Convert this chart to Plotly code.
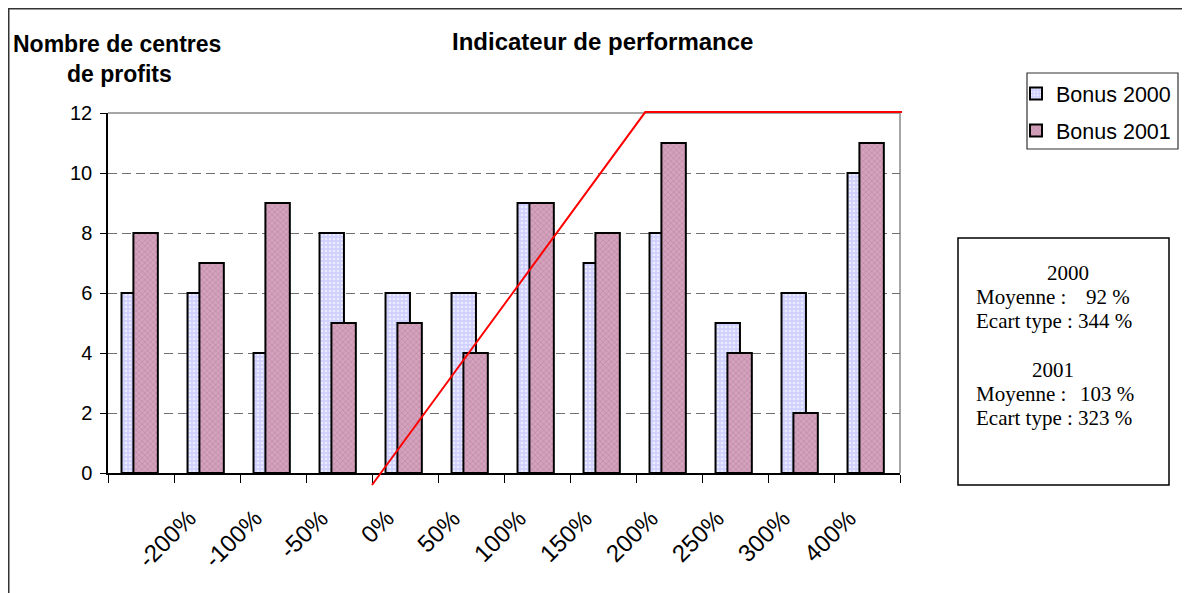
import plotly.graph_objects as go

# ---- data ----
x_labels = ["", "-200%", "-100%", "-50%", "0%", "50%", "100%", "150%",
            "200%", "250%", "300%", "400%"]
bonus_2000 = [6, 6, 4, 8, 6, 6, 9, 7, 8, 5, 6, 10]
bonus_2001 = [8, 7, 9, 5, 5, 4, 9, 8, 11, 4, 2, 11]
# red bonus curve (category-index units / count units)
curve_x = [3.5, 7.64, 11.53]
curve_y = [-0.4, 12.03, 12.03]
stat_years = ["2000", "2001"]
stat_mean = [92, 103]
stat_std = [344, 323]
y_ticks = [0, 2, 4, 6, 8, 10, 12]

# ---- geometry ----
# positions are measured on the screenshot, where the page body adds an
# 8 px offset; fx/fy convert them to paper fractions (margins are zero)
W, H = 1190, 593
OFF = 8
PL, PR, PT, PB = 108, 900, 113, 473   # main plot area (screenshot px)
N = len(x_labels)
Y_MAX = 12


def fx(p):
    return (p - OFF) / W


def fy(p):
    return 1 - (p - OFF) / H


ux = (PR - PL) / N          # pixels per category
uy = (PB - PT) / Y_MAX      # pixels per count unit

# wider, invisible overlay subplot for the red curve (same scale, so the
# curve can run slightly outside the main plot area as in the original)
L2, R2, T2, B2 = 96, 914, 100, 500
x2_range = [-0.5 + (L2 - PL) / ux, -0.5 + (R2 - PL) / ux]
y2_range = [(PB - B2) / uy, (PB - T2) / uy]

xs = list(range(N))

fig = go.Figure()
fig.add_trace(go.Bar(
    x=xs, y=bonus_2000, name="Bonus 2000", offset=-0.295, width=0.37,
    marker=dict(color="#d4d4ff", line=dict(color="black", width=2),
                pattern=dict(shape=".", bgcolor="#d0d0ff", fgcolor="#ececff",
                             size=4, solidity=0.35, fillmode="replace")),
    legendgroup="a",
))
fig.add_trace(go.Bar(
    x=xs, y=bonus_2001, name="Bonus 2001", offset=-0.115, width=0.37,
    marker=dict(color="#cc99b3", line=dict(color="black", width=2),
                pattern=dict(shape="x", bgcolor="#d4a2bd", fgcolor="#b8829e",
                             size=4, solidity=0.25, fillmode="replace")),
    legendgroup="b",
))
fig.add_trace(go.Scatter(
    x=curve_x, y=curve_y, mode="lines", line=dict(color="red", width=2),
    showlegend=False, hoverinfo="skip", xaxis="x2", yaxis="y2",
))

font_main = "Arial, Liberation Sans, sans-serif"
serif = "Times New Roman, Liberation Serif, serif"

fig.update_layout(
    width=W, height=H,
    margin=dict(l=0, r=0, t=0, b=0, pad=0),
    paper_bgcolor="white", plot_bgcolor="rgba(0,0,0,0)",
    barmode="overlay",
    font=dict(family=font_main, color="black", size=20),
    showlegend=True,
    legend=dict(x=fx(1016), y=fy(73), xanchor="left", yanchor="top",
                borderwidth=0, bgcolor="rgba(0,0,0,0)",
                font=dict(size=21.5, family=font_main),
                traceorder="grouped", tracegroupgap=6),
    xaxis=dict(domain=[fx(PL), fx(PR)], range=[-0.5, N - 0.5],
               tickmode="array", tickvals=xs,
               ticktext=x_labels, tickangle=-45, ticks="",
               showline=True, linecolor="black", linewidth=1.5,
               showgrid=False, zeroline=False, automargin=False,
               tickfont=dict(size=24),
               ticklabelstandoff=20, ticklabelshift=-18,
               minor=dict(tickmode="linear", tick0=-0.5, dtick=1,
                          ticks="outside", ticklen=8, tickcolor="black",
                          tickwidth=1, showgrid=False)),
    yaxis=dict(domain=[fy(PB), fy(PT)], range=[0, Y_MAX], tickvals=y_ticks,
               ticks="outside", ticklen=6,
               tickcolor="black", showline=True, linecolor="black",
               linewidth=1.5, showgrid=True, gridcolor="#707070",
               griddash="9px,5px", gridwidth=1.4, zeroline=False,
               automargin=False,
               tickfont=dict(size=20), ticklabelstandoff=4),
    xaxis2=dict(domain=[fx(L2), fx(R2)], range=x2_range, visible=False,
                anchor="y2", fixedrange=True),
    yaxis2=dict(domain=[fy(B2), fy(T2)], range=y2_range, visible=False,
                anchor="x2", fixedrange=True),
)

shapes = [
    # top and right borders of plot area (gray)
    dict(type="line", xref="paper", yref="paper", x0=fx(PL), x1=fx(PR),
         y0=fy(PT), y1=fy(PT), line=dict(color="#888888", width=1.5),
         layer="below"),
    dict(type="line", xref="paper", yref="paper", x0=fx(PR), x1=fx(PR),
         y0=fy(PB), y1=fy(PT), line=dict(color="#888888", width=1.5),
         layer="below"),
    # outer chart frame
    dict(type="rect", xref="paper", yref="paper", x0=0.75 / W,
         x1=1 - 0.75 / W, y0=0.75 / H, y1=1 - 0.75 / H,
         line=dict(color="#333333", width=1.5), layer="below"),
    # legend frame
    dict(type="rect", xref="paper", yref="paper", x0=fx(1027), x1=fx(1178),
         y0=fy(149), y1=fy(73), line=dict(color="#333333", width=1.2),
         layer="below"),
    # stats box
    dict(type="rect", xref="paper", yref="paper", x0=fx(958), x1=fx(1169),
         y0=fy(485), y1=fy(238), line=dict(color="black", width=1.5),
         fillcolor="white"),
]
fig.update_layout(shapes=shapes)

ann = []
ann.append(dict(text="<b>Indicateur de performance</b>", x=fx(602), y=fy(42),
                font=dict(size=24)))
ann.append(dict(text="<b>Nombre de centres</b>", x=fx(117), y=fy(44),
                font=dict(size=23)))
ann.append(dict(text="<b>de profits</b>", x=fx(119), y=fy(74),
                font=dict(size=23)))

year_cx = [1068, 1053]
base_y = [273, 370]
val_right = [1132, 1136]
for i in range(2):
    y0 = base_y[i]
    ann.append(dict(text=stat_years[i], x=fx(year_cx[i]), y=fy(y0),
                    font=dict(size=21, family=serif)))
    ann.append(dict(text="Moyenne :", x=fx(974), y=fy(y0 + 24),
                    xanchor="left", font=dict(size=21, family=serif)))
    ann.append(dict(text=f"{stat_mean[i]} %", x=fx(val_right[i]),
                    y=fy(y0 + 24), xanchor="right",
                    font=dict(size=21, family=serif)))
    ann.append(dict(text=f"Ecart type : {stat_std[i]} %", x=fx(974),
                    y=fy(y0 + 48), xanchor="left",
                    font=dict(size=21, family=serif)))

for a in ann:
    a.setdefault("xanchor", "center")
    a.update(xref="paper", yref="paper", yanchor="middle", showarrow=False)
fig.update_layout(annotations=ann)

fig.write_html("out.html")
